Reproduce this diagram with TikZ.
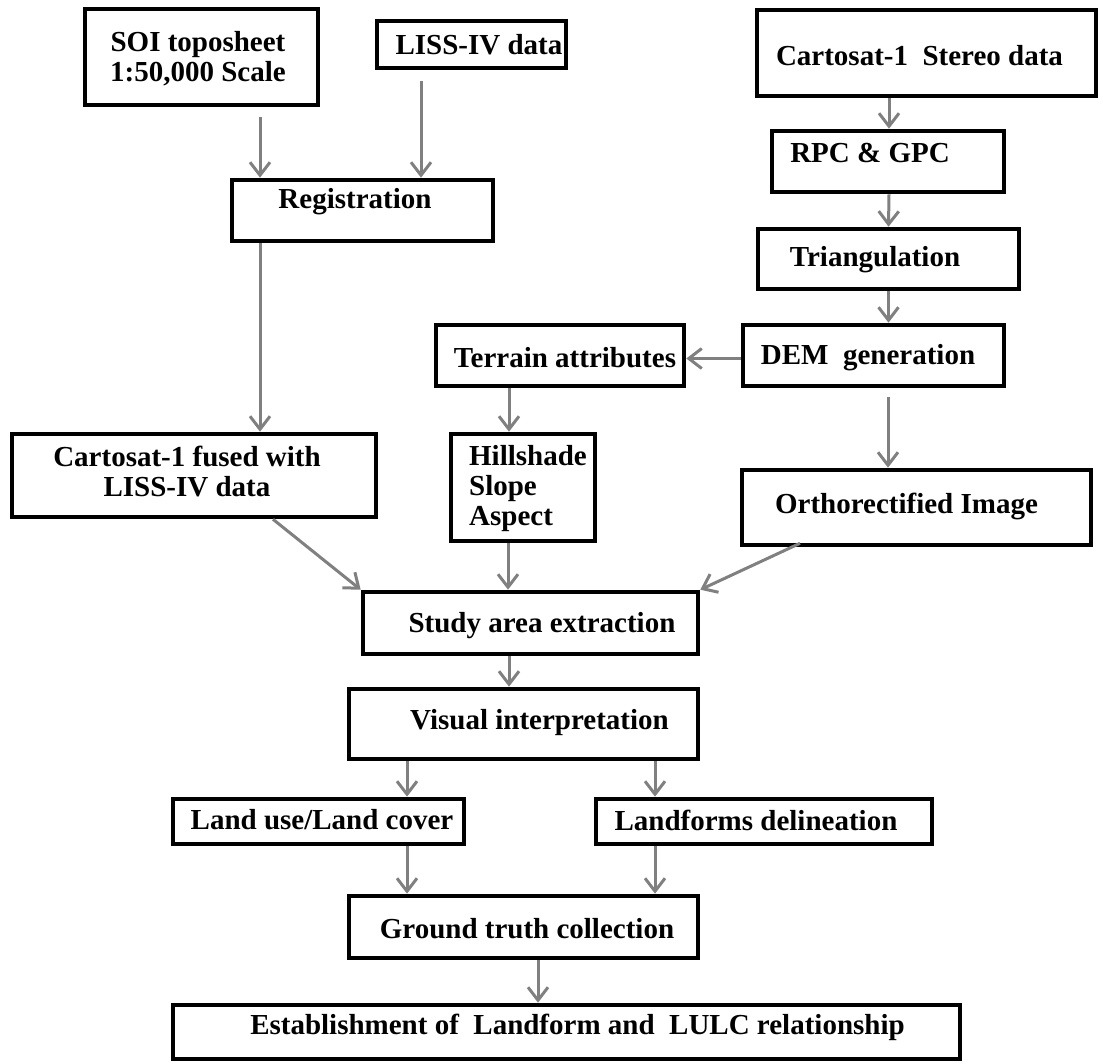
\documentclass[tikz,border=0pt]{standalone}
\usepackage{fontspec}
\setmainfont{Liberation Serif}
\usetikzlibrary{arrows.meta}
\definecolor{arrgray}{RGB}{128,128,128}
\begin{document}
\begin{tikzpicture}[x=0.5pt,y=-0.5pt,
  box/.style={draw=black, line width=2.3pt, rectangle, inner sep=0pt, line join=miter},
  lbl/.style={font=\fontsize{14.5}{15}\selectfont\bfseries, inner sep=0pt, align=center},
  arr/.style={draw=arrgray, line width=1.5pt, -{Straight Barb[length=6.5pt,width=10pt,line width=1.5pt]}}
]
\useasboundingbox (0,0) rectangle (1103,1064);

\node[box, minimum width=116.5pt, minimum height=48pt,
  label={[lbl,xshift=-1.75pt,yshift=-1pt]center:{SOI toposheet\\1:50,000 Scale}}] (soi) at (201.5,57) {};
\node[box, minimum width=94.5pt, minimum height=23.5pt,
  label={[lbl,xshift=3.75pt]center:{LISS-IV data}}] (liss) at (471.5,44.5) {};
\node[box, minimum width=169.5pt, minimum height=43pt,
  label={[lbl,xshift=-3.5pt,yshift=-1.5pt]center:{Cartosat-1\ \ Stereo data}}] (stereo) at (926.5,53) {};
\node[box, minimum width=116pt, minimum height=30.5pt,
  label={[lbl,xshift=-9pt,yshift=4.25pt]center:{RPC \& GPC}}] (rpc) at (888,161.5) {};
\node[box, minimum width=130.5pt, minimum height=30pt,
  label={[lbl,xshift=-6.75pt,yshift=-0.5pt]center:{Triangulation}}] (tri) at (888.5,259) {};
\node[box, minimum width=130.5pt, minimum height=30.5pt,
  label={[lbl,xshift=-2.75pt,yshift=-1.25pt]center:{DEM\ \ generation}}] (dem) at (873.5,355.5) {};
\node[box, minimum width=124pt, minimum height=30.5pt,
  label={[lbl,xshift=2.5pt,yshift=-1.25pt]center:{Terrain attributes}}] (terrain) at (560,355.5) {};
\node[box, minimum width=130.5pt, minimum height=30.5pt,
  label={[lbl,xshift=-3.75pt,yshift=4.25pt]center:{Registration}}] (reg) at (362.5,210.5) {};
\node[box, minimum width=182pt, minimum height=41.5pt,
  label={[lbl,xshift=-3.5pt,yshift=1.75pt]center:{Cartosat-1 fused with\\LISS-IV data}}] (fused) at (194,475.5) {};
\node[box, minimum width=72pt, minimum height=53.5pt,
  label={[lbl,align=left,xshift=2.5pt,yshift=-0.5pt]center:{Hillshade\\Slope\\Aspect}}] (hill) at (523,487.5) {};
\node[box, minimum width=174.5pt, minimum height=37.5pt,
  label={[lbl,xshift=-5pt,yshift=0.75pt]center:{Orthorectified Image}}] (ortho) at (916.5,507.5) {};
\node[box, minimum width=167.5pt, minimum height=31pt,
  label={[lbl,xshift=5.75pt,yshift=-1.5pt]center:{Study area extraction}}] (study) at (530.5,623) {};
\node[box, minimum width=174.5pt, minimum height=35pt,
  label={[lbl,xshift=8pt,yshift=0.5pt]center:{Visual interpretation}}] (visual) at (523.5,724) {};
\node[box, minimum width=145.5pt, minimum height=22.5pt,
  label={[lbl,xshift=1.75pt,yshift=0.75pt]center:{Land use/Land cover}}] (lulc) at (318.5,821.5) {};
\node[box, minimum width=168pt, minimum height=22.5pt,
  label={[lbl,xshift=-4pt,yshift=0.75pt]center:{Landforms delineation}}] (landf) at (764,821.5) {};
\node[box, minimum width=174.5pt, minimum height=31pt,
  label={[lbl,xshift=1.75pt,yshift=-1pt]center:{Ground truth collection}}] (ground) at (523.5,927) {};
\node[box, minimum width=393.5pt, minimum height=27pt,
  label={[lbl,xshift=5.5pt,yshift=2.5pt]center:{Establishment of\ \ Landform and\ \ LULC relationship}}] (estab) at (566.5,1032) {};

% connectors
\draw[arr, shorten <=5pt] ([xshift=29.25pt]soi.south) -- ([xshift=-51.25pt]reg.north);
\draw[arr, shorten <=5.5pt] ([xshift=-25.25pt]liss.south) -- ([xshift=29.25pt]reg.north);
\draw[arr] ([xshift=-18.75pt]stereo.south) -- ([xshift=0.5pt]rpc.north);
\draw[arr] ([xshift=0.5pt]rpc.south) -- (tri.north);
\draw[arr] (tri.south) -- ([xshift=7.5pt]dem.north);
\draw[arr] ([yshift=-1.5pt]dem.west) -- ([yshift=-1.5pt]terrain.east);
\draw[arr] ([xshift=-51.25pt]reg.south) -- ([xshift=33pt]fused.north);
\draw[arr] ([xshift=-25.5pt]terrain.south) -- ([xshift=-7pt]hill.north);
\draw[arr, shorten <=4.5pt] ([xshift=7.25pt]dem.south) -- ([xshift=-14.25pt]ortho.north);
\draw[arr] ([xshift=39.5pt]fused.south) -- (study.north west);
\draw[arr] ([xshift=-7.5pt]hill.south) -- ([xshift=-11.25pt]study.north);
\draw[arr] ([xshift=-58.25pt,yshift=2pt]ortho.south) -- (study.north east);
\draw[arr] ([xshift=-10.75pt]study.south) -- ([xshift=-7.25pt]visual.north);
\draw[arr] ([xshift=-58.25pt]visual.south) -- ([xshift=44.25pt]lulc.north);
\draw[arr] ([xshift=65.75pt]visual.south) -- ([xshift=-54.5pt]landf.north);
\draw[arr] ([xshift=44.25pt]lulc.south) -- ([xshift=-58.25pt]ground.north);
\draw[arr] ([xshift=-54.5pt]landf.south) -- ([xshift=65.75pt]ground.north);
\draw[arr] ([xshift=7.25pt]ground.south) -- ([xshift=-14.25pt]estab.north);
\end{tikzpicture}
\end{document}
